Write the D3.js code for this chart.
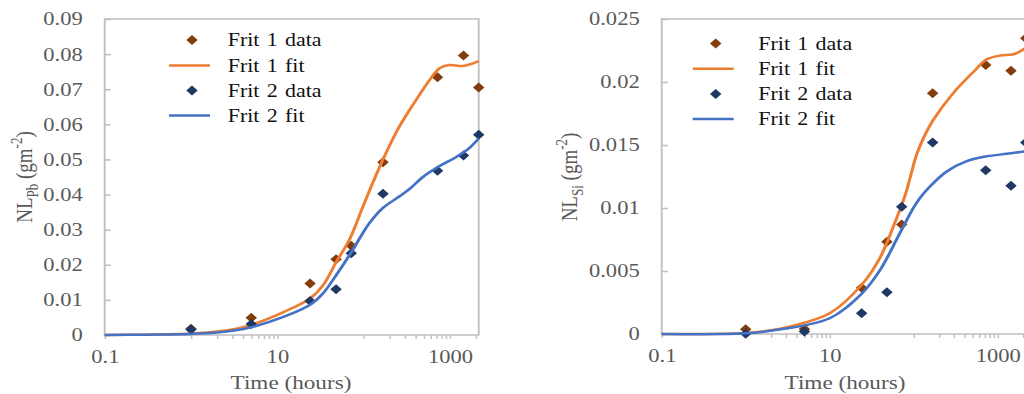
<!DOCTYPE html>
<html>
<head>
<meta charset="utf-8">
<script src="https://cdn.jsdelivr.net/npm/d3@7"></script>
<style>
  html, body { margin: 0; padding: 0; background: #fff; }
  svg { display: block; }
  text { font-family: "Liberation Serif", "Times New Roman", serif; }
</style>
</head>
<body>
<svg id="chart"></svg>
<script>
// sampling times (hours)
const times = [1, 5, 24, 48, 72, 168, 720, 1440, 2160];

// Pb panel
const pbFrit1 = [0.0018, 0.0049, 0.0147, 0.0216, 0.0254, 0.0492, 0.0734, 0.0796, 0.0705];
const pbFrit2 = [0.0016, 0.0031, 0.0097, 0.0130, 0.0233, 0.0402, 0.0468, 0.0511, 0.0570];
const pbFit1 = [[0.1, 0], [0.3, 0.0001], [1, 0.0004], [2, 0.0010], [3, 0.0016], [5, 0.0029],
  [12, 0.0066], [24, 0.0104], [34, 0.0142], [48, 0.0207], [69, 0.0273], [98, 0.0365],
  [118, 0.0413], [168, 0.0500], [262, 0.0595], [408, 0.0670], [582, 0.0726], [760, 0.0760],
  [993, 0.0769], [1413, 0.0766], [2160, 0.0780]];
const pbFit2 = [[0.1, 0], [0.3, 0.0001], [1, 0.0003], [2, 0.0007], [3, 0.0012], [5, 0.0022],
  [12, 0.0052], [24, 0.0086], [34, 0.0119], [48, 0.0170], [69, 0.0228], [98, 0.0290],
  [118, 0.0320], [168, 0.0362], [262, 0.0395], [342, 0.0416], [488, 0.0450], [760, 0.0481],
  [1186, 0.0507], [1690, 0.0533], [2160, 0.0560]];
const pbTicks = [0, 0.01, 0.02, 0.03, 0.04, 0.05, 0.06, 0.07, 0.08, 0.09];

// Si panel
const siFrit1 = [0.00037, 0.0004, 0.00368, 0.00733, 0.0087, 0.0191, 0.02135, 0.0209, 0.02347];
const siFrit2 = [0.00002, 0.0002, 0.00164, 0.00331, 0.0101, 0.0152, 0.0130, 0.01177, 0.0152];
const siFit1 = [[0.1, 0], [0.5, 0.00002], [1, 0.00008], [2.5, 0.0004], [5, 0.0009], [10, 0.00164],
  [24, 0.0039], [40, 0.0061], [57, 0.0085], [79, 0.0110], [109, 0.0143], [136, 0.0158],
  [171, 0.0170], [294, 0.0191], [513, 0.0208], [740, 0.0218], [1075, 0.0221], [1540, 0.0222],
  [2160, 0.0227]];
const siFit2 = [[0.1, 0], [1, 0.00005], [2.5, 0.00035], [10, 0.00125], [24, 0.0032], [40, 0.0051],
  [62.5, 0.0075], [79, 0.0088], [99, 0.0100], [119, 0.0108], [156, 0.0117], [247, 0.0129],
  [422, 0.0137], [740, 0.0141], [1290, 0.0143], [2160, 0.0145]];
const siTicks = [0, 0.005, 0.01, 0.015, 0.02, 0.025];

const xLabelled = [0.1, 10, 1000];
const xMajor = [0.1, 1, 10, 100, 1000];
const xMinor = [2, 3, 4, 5, 6, 7, 8, 9, 200, 300, 400, 500, 600, 700, 800, 900, 2000];
const legendLabels = ["Frit 1 data", "Frit 1 fit", "Frit 2 data", "Frit 2 fit"];

const c1Data = "#843c0c", c1Fit = "#ed7d31", c2Data = "#1f3864", c2Fit = "#4472c4";
const axisGrey = "#bfbfbf", textGrey = "#595959";

// the source picture is stretched sideways, so draw in a narrower box and stretch it
const sx = 1.22;
const W = 1024, H = 394;
const svg = d3.select("#chart")
  .attr("width", W).attr("height", H)
  .attr("viewBox", `0 0 ${W / sx} ${H}`)
  .attr("preserveAspectRatio", "none");

const diamond = "M0,-5L4.7,0L0,5L-4.7,0Z";

function drawPanel(p) {
  const x = d3.scaleLog().domain([0.1, 2160]).range([p.left / sx, p.right / sx]);
  const y = d3.scaleLinear().domain([0, p.yMax]).range([p.bottom, p.top]);
  const g = svg.append("g");

  g.append("rect")
    .attr("x", x.range()[0]).attr("y", p.top)
    .attr("width", x.range()[1] - x.range()[0]).attr("height", p.bottom - p.top)
    .attr("fill", "none").attr("stroke", axisGrey).attr("stroke-width", 1.5);

  const yAxis = g.append("g")
    .attr("transform", `translate(${x.range()[0]},0)`)
    .call(d3.axisLeft(y).tickValues(p.yTicks).tickSizeInner(-5).tickSizeOuter(0)
      .tickPadding(22 / sx).tickFormat(d => String(+d.toFixed(3))));
  yAxis.select(".domain").remove();
  yAxis.selectAll("line").attr("stroke", axisGrey).attr("stroke-width", 1.5);
  yAxis.selectAll("text").attr("fill", textGrey).style("font-size", "18.5px")
    .style("font-family", '"Liberation Serif", serif');

  const xAxis = g.append("g")
    .attr("transform", `translate(0,${p.bottom})`)
    .call(d3.axisBottom(x).tickValues(xMajor.concat(xMinor)).tickSize(4).tickPadding(11)
      .tickFormat(d => xLabelled.includes(d) ? String(d) : ""));
  xAxis.select(".domain").remove();
  xAxis.selectAll("line").attr("stroke", axisGrey).attr("stroke-width", 1.2);
  xAxis.selectAll("text").attr("fill", textGrey).style("font-size", "18.5px")
    .style("font-family", '"Liberation Serif", serif');

  // axis titles
  g.append("text")
    .attr("x", p.xTitleX / sx).attr("y", 389)
    .attr("text-anchor", "middle").attr("fill", textGrey).style("font-size", "19px")
    .text("Time (hours)");

  const yt = g.append("text")
    .attr("transform", `translate(${p.yTitleX / sx},177) rotate(-90)`)
    .attr("text-anchor", "middle").attr("fill", textGrey).style("font-size", "19px");
  yt.append("tspan").text("NL");
  yt.append("tspan").attr("dy", 5).style("font-size", "13px").text(p.element);
  yt.append("tspan").attr("dy", -5).text(" (gm");
  yt.append("tspan").attr("dy", -8).style("font-size", "13px").text("-2");
  yt.append("tspan").attr("dy", 8).text(")");

  const line = d3.line().x(d => x(d[0])).y(d => y(d[1])).curve(d3.curveCatmullRom.alpha(0.5));

  const series = [
    { type: "data", values: p.d1, color: c1Data },
    { type: "fit", values: p.f1, color: c1Fit },
    { type: "data", values: p.d2, color: c2Data },
    { type: "fit", values: p.f2, color: c2Fit }
  ];

  series.forEach(s => {
    if (s.type === "data") {
      g.selectAll(null).data(times.map((t, i) => [t, s.values[i]])).enter()
        .append("path")
        .attr("d", diamond)
        .attr("transform", d => `translate(${x(d[0])},${y(d[1])})`)
        .attr("fill", s.color);
    } else {
      g.append("path").datum(s.values)
        .attr("d", line)
        .attr("fill", "none").attr("stroke", s.color).attr("stroke-width", 2.5);
    }
  });

  // legend
  const lg = g.append("g");
  series.forEach((s, i) => {
    const ry = p.legRows[i];
    if (s.type === "data") {
      lg.append("path").attr("d", diamond)
        .attr("transform", `translate(${p.legSym / sx},${ry})`).attr("fill", s.color);
    } else {
      lg.append("line")
        .attr("x1", (p.legSym - 23) / sx).attr("x2", (p.legSym + 18) / sx)
        .attr("y1", ry).attr("y2", ry)
        .attr("stroke", s.color).attr("stroke-width", 2.5);
    }
    lg.append("text")
      .attr("x", p.legText / sx).attr("y", ry + 6.3)
      .attr("fill", "#111").style("font-size", "18px").style("word-spacing", "1.5px")
      .text(legendLabels[i]);
  });
}

drawPanel({
  left: 104.7, right: 478.7, top: 19, bottom: 335, yMax: 0.09, yTicks: pbTicks,
  d1: pbFrit1, d2: pbFrit2, f1: pbFit1, f2: pbFit2, element: "Pb",
  xTitleX: 291, yTitleX: 31.5,
  legSym: 192, legText: 227.7, legRows: [40, 65.5, 90.5, 115.5]
});

drawPanel({
  left: 661.7, right: 1025.8, top: 19, bottom: 334, yMax: 0.025, yTicks: siTicks,
  d1: siFrit1, d2: siFrit2, f1: siFit1, f2: siFit2, element: "Si",
  xTitleX: 845, yTitleX: 577,
  legSym: 715.7, legText: 758.3, legRows: [43.5, 68.8, 94, 119]
});
</script>
</body>
</html>
